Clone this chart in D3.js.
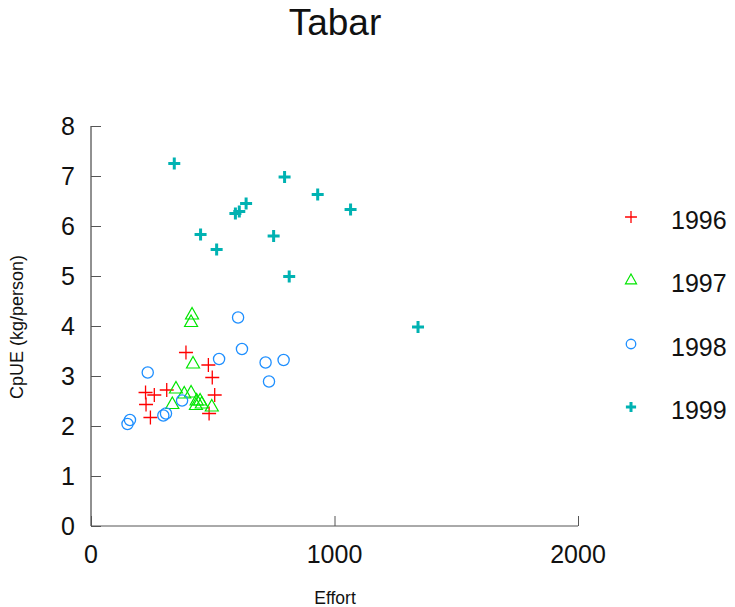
<!DOCTYPE html>
<html><head><meta charset="utf-8">
<script src="https://cdn.jsdelivr.net/npm/d3@7"></script>
<style>body{margin:0;background:#fff}text{font-family:"Liberation Sans",Arial,sans-serif}</style>
</head><body>
<script>
const years = ["1996","1997","1998","1999"];
const colors = ["#FF0000","#00E600","#1E8FFF","#00B2B2"];
const effort1996 = [390,482,498,224,260,311,508,226,244,485];
const cpue1996   = [3.47,3.22,2.97,2.67,2.62,2.72,2.62,2.43,2.17,2.25];
const effort1997 = [415,411,419,349,383,411,334,434,448,431,455,496];
const cpue1997   = [4.23,4.08,3.25,2.75,2.65,2.67,2.44,2.51,2.51,2.42,2.45,2.39];
const effort1998 = [604,620,526,717,791,233,731,374,308,297,160,150];
const cpue1998   = [4.17,3.54,3.34,3.27,3.32,3.07,2.89,2.51,2.25,2.21,2.12,2.04];
const effort1999 = [342,795,931,1066,637,609,593,450,750,516,814,1343];
const cpue1999   = [7.25,6.98,6.63,6.33,6.45,6.29,6.25,5.83,5.80,5.53,4.99,3.98];
const xTicks = [0,1000,2000];
const yTicks = [0,1,2,3,4,5,6,7,8];

const series = [
  {year:years[0], x:effort1996, y:cpue1996},
  {year:years[1], x:effort1997, y:cpue1997},
  {year:years[2], x:effort1998, y:cpue1998},
  {year:years[3], x:effort1999, y:cpue1999}
];

const W=735,H=607;
const svg=d3.select("body").append("svg").attr("width",W).attr("height",H);
const x=d3.scaleLinear().domain([0,2000]).range([91,578]);
const y=d3.scaleLinear().domain([0,8]).range([526,126]);

svg.append("text").attr("x",335).attr("y",35).attr("text-anchor","middle")
  .attr("font-size",37).attr("fill","#111").text("Tabar");

// axes
const yAx=svg.append("g").attr("transform","translate(91,0)")
  .call(d3.axisRight(y).tickValues(yTicks).tickSize(10).tickFormat(""));
yAx.select(".domain").attr("stroke","#222").attr("d","M0,126V526");
yAx.selectAll(".tick line").attr("stroke","#555");
const xAx=svg.append("g").attr("transform","translate(0,526)")
  .call(d3.axisTop(x).tickValues(xTicks).tickSize(10).tickFormat(""));
xAx.select(".domain").attr("stroke","#555").attr("d","M91,0H578");
xAx.selectAll(".tick line").attr("stroke","#555");

svg.selectAll(".ylab").data(yTicks).enter().append("text")
  .attr("x",75).attr("y",d=>y(d)+9).attr("text-anchor","end").attr("font-size",25)
  .attr("fill","#111").text(d=>d);
svg.selectAll(".xlab").data(xTicks).enter().append("text")
  .attr("x",d=>x(d)).attr("y",563).attr("text-anchor","middle").attr("font-size",25)
  .attr("fill","#111").text(d=>d);

svg.append("text").attr("x",335).attr("y",604).attr("text-anchor","middle")
  .attr("font-size",17.5).attr("fill","#111").text("Effort");
svg.append("text").attr("transform","translate(23,327) rotate(-90)")
  .attr("text-anchor","middle").attr("font-size",18).attr("fill","#111").text("CpUE (kg/person)");

function marker(g,i,cx,cy,k){
  const c=colors[i];
  if(i===0){
    const s=7*k;
    g.append("path").attr("d",`M${cx-s},${cy}H${cx+s}M${cx},${cy-s}V${cy+s}`)
      .attr("stroke",c).attr("stroke-width",1.3).attr("fill","none");
  } else if(i===1){
    g.append("path").attr("d",`M${cx},${cy-7*k}L${cx+6.5*k},${cy+4.5*k}L${cx-6.5*k},${cy+4.5*k}Z`)
      .attr("stroke",c).attr("stroke-width",1.2).attr("fill","none");
  } else if(i===2){
    g.append("circle").attr("cx",cx).attr("cy",cy).attr("r",5.6*k)
      .attr("stroke",c).attr("stroke-width",1.3).attr("fill","none");
  } else {
    const s=6*k;
    g.append("path").attr("d",`M${cx-s},${cy}H${cx+s}M${cx},${cy-s}V${cy+s}`)
      .attr("stroke",c).attr("stroke-width",3).attr("fill","none");
  }
}
const pts=svg.append("g");
series.forEach((s,i)=>{
  s.x.forEach((v,j)=>marker(pts,i,x(v),y(s.y[j]),1));
});

// legend
const legY=[217,280,344,407];
series.forEach((s,i)=>{
  marker(svg,i,631,legY[i],0.85);
  svg.append("text").attr("x",671).attr("y",legY[i]+12).attr("font-size",25)
    .attr("fill","#111").text(s.year);
});
</script>
</body></html>
